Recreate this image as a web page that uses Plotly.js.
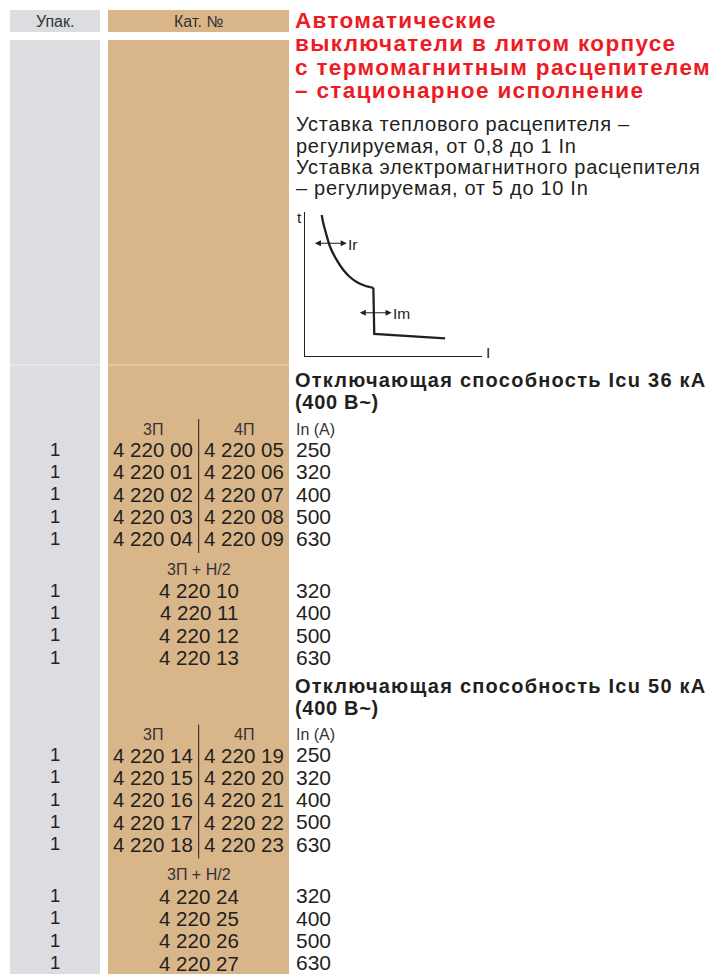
<!DOCTYPE html>
<html>
<head>
<meta charset="utf-8">
<script src="https://cdn.plot.ly/plotly-3.0.1.min.js"></script>
<style>
  html, body { margin: 0; padding: 0; background: #ffffff; }
  #chart { width: 713px; height: 975px; }
</style>
</head>
<body>
<div id="chart"></div>
<script>
// ---------------- DATA ----------------
const headerLabels = ['Упак.', 'Кат. №'];
const titleLines = [
  'Автоматические',
  'выключатели в литом корпусе',
  'с термомагнитным расцепителем',
  '– стационарное исполнение'
];
const descLines = [
  'Уставка теплового расцепителя –',
  'регулируемая, от 0,8 до 1 In',
  'Уставка электромагнитного расцепителя',
  '– регулируемая, от 5 до 10 In'
];
const sectionTitles = ['Отключающая способность Icu 36 кА', 'Отключающая способность Icu 50 кА'];
const voltageLabel = '(400 В~)';
const poleLabels = ['3П', '4П'];
const neutralLabel = '3П + Н/2';
const unitLabel = 'In (A)';

const ratingsPoles = [250, 320, 400, 500, 630];
const ratingsNeutral = [320, 400, 500, 630];
const packPoles = [1, 1, 1, 1, 1];
const packNeutral = [1, 1, 1, 1];

const cat36_3P = ['4 220 00', '4 220 01', '4 220 02', '4 220 03', '4 220 04'];
const cat36_4P = ['4 220 05', '4 220 06', '4 220 07', '4 220 08', '4 220 09'];
const cat36_N  = ['4 220 10', '4 220 11', '4 220 12', '4 220 13'];
const cat50_3P = ['4 220 14', '4 220 15', '4 220 16', '4 220 17', '4 220 18'];
const cat50_4P = ['4 220 19', '4 220 20', '4 220 21', '4 220 22', '4 220 23'];
const cat50_N  = ['4 220 24', '4 220 25', '4 220 26', '4 220 27'];

// trip curve sketch (arbitrary units, I vs t)
const curveThermalI = [9.7, 10.6, 12.1, 14.4, 18.1, 21.9, 25.6, 29.4, 34.1, 38.8];
const curveThermalT = [97.9, 92.1, 85.2, 75.8, 66.6, 59.6, 54.7, 51.2, 48.6, 47.2];
const curveMagI = [38.8, 39.3, 79.2];
const curveMagT = [47.2, 15.0, 12.0];
const axisLabels = ['t', 'I'];
const arrowLabels = ['Ir', 'Im'];

// ---------------- STYLE ----------------
const FONT = 'Liberation Sans, Arial, Helvetica, sans-serif';
const GRAY = '#dcdde0';
const TAN = '#d9b68a';
const RED = '#ed1c24';
const INK = '#231f20';

const annotations = [];
function txt(x, baseline, s, size, anchor, color, bold, spacing) {
  let t = String(s);
  if (spacing) t = '<span style="letter-spacing:' + spacing + 'px">' + t + '</span>';
  if (bold) t = '<b>' + t + '</b>';
  annotations.push({
    x: x, y: baseline - 0.35 * size, xref: 'x', yref: 'y',
    text: t, borderpad: 0,
    showarrow: false, xanchor: anchor || 'left', yanchor: 'middle',
    font: { family: FONT, size: size, color: color || INK }
  });
}

const shapes = [];
function rect(x0, y0, x1, y1, color) {
  shapes.push({ type: 'rect', xref: 'x', yref: 'y', x0, y0, x1, y1,
    fillcolor: color, line: { width: 0 }, layer: 'below' });
}
function line(x0, y0, x1, y1, color, w) {
  shapes.push({ type: 'line', xref: 'x', yref: 'y', x0, y0, x1, y1,
    line: { color: color, width: w }, layer: 'above' });
}

// column geometry (pixels)
const colPack = [10, 100];
const colCat = [108, 289];
const packX = 54.5;
const catX = 198.5;
const cat3X = 152.7;
const cat4X = 243.7;
const textX = 295;

// backgrounds
rect(colPack[0], 10, colPack[1], 32, GRAY);
rect(colCat[0], 10, colCat[1], 32, TAN);
rect(colPack[0], 40, colPack[1], 974, GRAY);
rect(colCat[0], 40, colCat[1], 974, TAN);
line(colPack[0], 365, colPack[1], 365, 'rgba(255,255,255,0.55)', 1);
line(colCat[0], 365, colCat[1], 365, 'rgba(255,255,255,0.45)', 1);

// header
txt(packX, 26.8, headerLabels[0], 16, 'center', '#333333');
txt(catX, 26.8, headerLabels[1], 16, 'center', '#333333');

// title
titleLines.forEach((s, i) => txt(textX - 1, 28.3 + i * 23.4, s, 22.5, 'left', RED, true, 1.35));

// description
descLines.forEach((s, i) => txt(textX, 131.3 + i * 21.2, s, 20, 'left', INK, false, 0.7));

// sections
const sectionData = [
  { c3: cat36_3P, c4: cat36_4P, cN: cat36_N },
  { c3: cat50_3P, c4: cat50_4P, cN: cat50_N }
];
const sectionOffsets = [0, 305.5];
const rowH = 22.35;
sectionData.forEach((sec, k) => {
  const o = sectionOffsets[k];
  txt(textX - 1, 387.3 + o, sectionTitles[k], 20, 'left', INK, true, 1.25);
  txt(textX - 1, 409.3 + o, voltageLabel, 20, 'left', INK, true, 0.7);
  txt(cat3X, 434.8 + o, poleLabels[0], 16, 'center', '#333333');
  txt(cat4X, 434.8 + o, poleLabels[1], 16, 'center', '#333333');
  txt(textX, 434.8 + o, unitLabel, 16, 'left', '#333333');
  line(198.7, 419 + o, 198.7, 553 + o, INK, 1);
  ratingsPoles.forEach((r, i) => {
    const b = 456.7 + o + i * rowH;
    txt(packX, b - 1.2, packPoles[i], 18.5, 'center');
    txt(cat3X, b, sec.c3[i], 20.5, 'center');
    txt(cat4X, b, sec.c4[i], 20.5, 'center');
    txt(textX, b, r, 21, 'left');
  });
  txt(catX, 575 + o, neutralLabel, 16, 'center', '#333333');
  ratingsNeutral.forEach((r, i) => {
    const b = 597.7 + o + i * rowH;
    txt(packX, b - 1.2, packNeutral[i], 18.5, 'center');
    txt(catX, b, sec.cN[i], 20.5, 'center');
    txt(textX, b, r, 21, 'left');
  });
});

// inset curve labels
txt(299, 223, axisLabels[0], 15.5, 'center');
txt(488, 358, axisLabels[1], 15.5, 'center');
function insetTxt(x, y, s, anchor) {
  annotations.push({ x, y, xref: 'x2', yref: 'y2', text: s, showarrow: false, borderpad: 0,
    xanchor: anchor, yanchor: 'middle', font: { family: FONT, size: 15.5, color: INK } });
}
function insetArrow(x0, x1, y) {
  annotations.push({ x: x1, y: y, ax: x0, ay: y, xref: 'x2', yref: 'y2',
    axref: 'x2', ayref: 'y2', text: '', showarrow: true, arrowside: 'end+start',
    arrowhead: 2, arrowsize: 1.1, arrowwidth: 1.1, arrowcolor: INK, standoff: 0, startstandoff: 0 });
}
insetArrow(5.0, 23.8, 78.2);
insetArrow(30.3, 49.1, 29.8);
insetTxt(24.0, 77.0, arrowLabels[0], 'left');
insetTxt(49.2, 29.4, arrowLabels[1], 'left');

// ---------------- TRACES ----------------
const traces = [
  { x: curveThermalI, y: curveThermalT, xaxis: 'x2', yaxis: 'y2', mode: 'lines',
    line: { color: INK, width: 2.3, shape: 'spline', smoothing: 0.8 }, hoverinfo: 'skip' },
  { x: curveMagI, y: curveMagT, xaxis: 'x2', yaxis: 'y2', mode: 'lines',
    line: { color: INK, width: 2.3, shape: 'linear' }, hoverinfo: 'skip' }
];

const hiddenAxis = { visible: false, showgrid: false, zeroline: false, fixedrange: true };
const layout = {
  width: 713, height: 975, autosize: false,
  margin: { l: 0, r: 0, t: 0, b: 0, pad: 0 },
  paper_bgcolor: '#ffffff', plot_bgcolor: 'rgba(0,0,0,0)',
  showlegend: false,
  xaxis: Object.assign({ range: [0, 713], domain: [0, 1] }, hiddenAxis),
  yaxis: Object.assign({ range: [975, 0], domain: [0, 1] }, hiddenAxis),
  xaxis2: { domain: [304.5 / 713, 482 / 713], range: [0, 100], anchor: 'y2',
    showline: true, linecolor: INK, linewidth: 1, showticklabels: false, ticks: '',
    showgrid: false, zeroline: false, fixedrange: true },
  yaxis2: { domain: [(975 - 355.5) / 975, (975 - 212) / 975], range: [0, 100], anchor: 'x2',
    showline: true, linecolor: INK, linewidth: 1, showticklabels: false, ticks: '',
    showgrid: false, zeroline: false, fixedrange: true },
  shapes: shapes,
  annotations: annotations
};

Plotly.newPlot('chart', traces, layout, { staticPlot: true, displayModeBar: false });
</script>
</body>
</html>
